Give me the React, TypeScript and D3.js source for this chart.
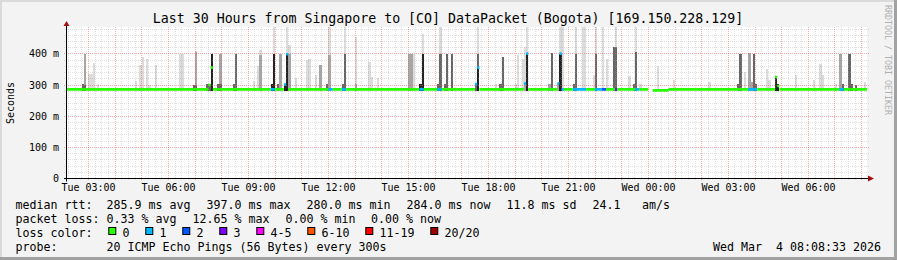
import React from 'react';
import * as d3 from 'd3';

const W = 897;
const H = 260;
const TITLE = 'Last 30 Hours from Singapore to [CO] DataPacket (Bogota) [169.150.228.129]';
const startTime = new Date(2026, 2, 3, 2, 12);
const endTime = new Date(2026, 2, 4, 8, 12);
const dayStart = new Date(2026, 2, 3, 0, 0).getTime();
const STEP = 5; // minutes per RRD step

const yTicks = [0, 100, 200, 300, 400];
const yTickLabels = ['0', '100 m', '200 m', '300 m', '400 m'];

// smoke: [minute since Tue 00:00, top of band in ms]
const lightSmoke: [number, number][] = [
  [170, 400], [180, 337], [185, 337], [190, 372], [200, 305], [285, 313], [295, 363],
  [300, 389], [310, 383], [315, 300], [330, 365], [385, 400], [390, 400], [420, 410],
  [455, 400], [550, 313], [560, 360], [565, 413], [595, 486], [625, 486], [630, 428],
  [645, 323], [670, 380], [675, 385], [690, 332], [720, 486], [755, 486], [780, 454],
  [810, 374], [815, 326], [830, 322], [910, 400], [930, 464], [970, 486], [1055, 486],
  [1095, 305], [1140, 305], [1145, 398], [1155, 385], [1160, 422], [1165, 486],
  [1240, 486], [1245, 486], [1275, 486], [1290, 486], [1295, 486], [1315, 332],
  [1320, 486], [1335, 486], [1345, 385], [1365, 486], [1395, 330], [1410, 486],
  [1420, 305], [1460, 362], [1495, 315], [1575, 311], [1655, 342], [1705, 353],
  [1710, 316], [1770, 332], [1810, 315], [1825, 369], [1830, 332], [1860, 305], [1925, 310],
];
const midSmoke: [number, number][] = [
  [170, 400], [420, 406], [475, 401], [565, 395], [610, 401], [630, 401], [700, 366],
  [720, 396], [780, 303], [900, 401], [905, 401], [1160, 305], [1215, 303], [1235, 303],
  [1665, 403], [1670, 310], [1870, 401],
];
const darkSmoke: [number, number][] = [
  [165, 303], [170, 300], [415, 300], [420, 300], [445, 305], [450, 305], [455, 401],
  [470, 305], [475, 305], [505, 303], [510, 401], [605, 303], [715, 303], [750, 303],
  [755, 401], [965, 303], [970, 401], [980, 303], [985, 401], [995, 399], [1050, 303],
  [1055, 399], [1105, 303], [1110, 390], [1165, 401], [1220, 403], [1270, 303],
  [1275, 401], [1320, 401], [1360, 422], [1365, 422], [1405, 303], [1410, 406],
  [1640, 303], [1645, 401], [1675, 401], [1680, 305], [1730, 300], [1875, 305],
  [1890, 401], [1895, 303], [1905, 300],
];
const blackSmoke: [number, number][] = [
  [455, 401], [590, 303], [595, 401], [620, 303], [625, 401], [925, 303], [930, 401],
  [1055, 356], [1165, 401], [1240, 401], [1725, 326], [1730, 303],
];

// median rtt
const medianBase = 286;
const medianJumps: [number, number][] = [
  [450, 300], [455, 356], [620, 302], [625, 399], [1050, 303], [1055, 356], [1160, 305],
  [1165, 401], [1235, 305], [1240, 401], [1725, 326], [1730, 297],
];
const medianOverrides: [number, number][] = [
  [1450, 283], [1455, 283], [1460, 283], [1465, 283], [1470, 283], [1475, 283], [1480, 283],
];
const medianGaps = [1440, 1445];

// [minute, loss color index]
const lossSteps: [number, number][] = [
  [590, 1], [595, 1], [620, 1], [625, 1], [720, 1], [725, 1], [750, 1], [755, 1],
  [925, 1], [930, 1], [965, 1], [970, 1], [1050, 1], [1055, 1], [1160, 1], [1165, 1],
  [1235, 1], [1240, 1], [1245, 1], [1270, 1], [1275, 1], [1280, 1], [1285, 1], [1290, 1],
  [1295, 1], [1320, 1], [1325, 1], [1330, 1], [1335, 2], [1340, 2], [1365, 3],
  [1410, 1], [1415, 1], [1665, 1], [1670, 1], [1675, 1], [1680, 1], [1870, 1], [1875, 1],
];

const lossColors = ['#26ff00', '#00b8ff', '#0059ff', '#7e00ff', '#ff00ff', '#ff5500', '#ff0000', '#a10000'];
const lossLabels = ['0', '1', '2', '3', '4-5', '6-10', '11-19', '20/20'];

const rttLine = ['285.9 ms avg', '397.0 ms max', '280.0 ms min', '284.0 ms now', '11.8 ms sd', '24.1'];
const lossLine = ['0.33 % avg', '12.65 % max', '0.00 % min', '0.00 % now'];
const probeText = '20 ICMP Echo Pings (56 Bytes) every 300s';
const stampText = 'Wed Mar\u00a0\u00a04 08:08:33 2026';

const FONT = "'DejaVu Sans Mono', monospace";
const CH = 7; // legend char advance

export default function App() {
  const PL = 67, PR = 867, PT = 27, PB = 178.5;
  const x = d3.scaleTime().domain([startTime, endTime]).range([PL, PR]);
  const y = d3.scaleLinear().domain([0, 480]).range([PB, 29]);
  const tm = (m: number) => new Date(dayStart + m * 60000);
  const crisp = (v: number) => Math.floor(v) + 0.5;
  const floorV = 281;

  const bars = (list: [number, number][], fill: string, key: string) =>
    list.map(([m, v], i) => {
      const x0 = x(tm(m));
      const x1 = x(tm(m + STEP));
      return (
        <rect key={key + i} x={x0} y={y(v)} width={x1 - x0} height={y(floorV) - y(v)}
          fill={fill} shapeRendering="crispEdges" />
      );
    });

  // grid
  const minorX = d3.timeMinute.every(15)!.range(startTime, endTime).filter((d) => d.getMinutes() !== 0);
  const majorX = d3.timeHour.range(startTime, endTime);
  const labelX = d3.timeHour.every(3)!.range(startTime, endTime);
  const minorY = d3.range(20, 481, 20).filter((v) => v % 100 !== 0);
  const majorY = d3.range(100, 481, 100);
  const fmt = d3.timeFormat('%a %H:%M');

  // median runs
  const jumpMap = new Map(medianJumps);
  const overMap = new Map(medianOverrides);
  const lossMap = new Map(lossSteps);
  const steps = d3.range(130, 1935, STEP);
  type Run = { m0: number; m1: number; v: number; c: string };
  const runs: Run[] = [];
  steps.forEach((m) => {
    if (medianGaps.includes(m)) return;
    const v = jumpMap.get(m) ?? overMap.get(m) ?? medianBase;
    const c = lossColors[lossMap.get(m) ?? 0];
    const last = runs[runs.length - 1];
    if (last && last.m1 === m && last.v === v && last.c === c) last.m1 = m + STEP;
    else runs.push({ m0: m, m1: m + STEP, v, c });
  });

  // legend swatch layout
  let lx = 108.3;
  const legendItems = lossLabels.map((lab, i) => {
    const item = { sx: lx, tx: lx + 15, lab, c: lossColors[i] };
    lx = lx + 15 + lab.length * CH + 15;
    return item;
  });

  const rttPos = [106.5, 206.5, 306.5, 406.5, 506.5, 592.5];
  const lossPos = [106.5, 192.5, 285.5, 371];
  const L1 = 208.5, L2 = 222.6, L3 = 236.7, L4 = 250.8;
  const legendFs = 11.63;
  const minorStroke = 'rgba(160,160,160,0.32)';
  const majorStroke = 'rgba(240,90,90,0.5)';

  return (
    <svg width={W} height={H} viewBox={`0 0 ${W} ${H}`}
      style={{ position: 'absolute', left: 0, top: 0, display: 'block' }}>
      <defs>
        <clipPath id="cv">
          <rect x={PL} y={PT} width={PR - PL} height={PB - PT} />
        </clipPath>
      </defs>
      <rect x={0} y={0} width={W} height={H} fill="#f3f3f3" />
      <rect x={0} y={0} width={W} height={2} fill="#dadada" />
      <rect x={0} y={0} width={2} height={H} fill="#dadada" />
      <rect x={0} y={H - 3} width={W} height={3} fill="#a2a2a2" />
      <rect x={W - 3} y={0} width={3} height={H} fill="#a2a2a2" />

      <rect x={PL} y={PT} width={PR - PL} height={PB - PT} fill="#ffffff" />

      <g clipPath="url(#cv)">
        {bars(lightSmoke, '#dcdcdc', 'l')}
        {bars(midSmoke, '#a6a6a6', 'm')}
        {bars(darkSmoke, '#666666', 'd')}
        {bars(blackSmoke, '#222222', 'k')}
      </g>

      {/* grid */}
      <g strokeWidth={1} strokeDasharray="1,1" fill="none">
        {minorY.map((v) => (
          <line key={'hy' + v} x1={PL - 3} x2={PR + 2} y1={crisp(y(v))} y2={crisp(y(v))}
            stroke={minorStroke} />
        ))}
        {minorX.map((d, i) => (
          <line key={'hx' + i} x1={crisp(x(d))} x2={crisp(x(d))} y1={PT} y2={PB + 1}
            stroke={minorStroke} />
        ))}
        {majorY.map((v) => (
          <line key={'my' + v} x1={PL - 3} x2={PR + 2} y1={crisp(y(v))} y2={crisp(y(v))}
            stroke={majorStroke} />
        ))}
        {majorX.map((d, i) => (
          <line key={'mx' + i} x1={crisp(x(d))} x2={crisp(x(d))} y1={PT} y2={PB + 2}
            stroke={majorStroke} />
        ))}
      </g>

      {/* median */}
      <g clipPath="url(#cv)">
        {runs.map((r, i) => (
          <line key={'md' + i} x1={x(tm(r.m0))} x2={x(tm(r.m1))} y1={y(r.v)} y2={y(r.v)}
            stroke={r.c} strokeWidth={2.6} />
        ))}
      </g>

      {/* axes */}
      <line x1={PL - 3} x2={PR + 3} y1={PB} y2={PB} stroke="#000" strokeWidth={1} />
      <line x1={PL - 0.5} x2={PL - 0.5} y1={PB + 3} y2={PT - 1} stroke="#000" strokeWidth={1} />
      <polygon points={`${PR + 1},${PB - 3} ${PR + 7},${PB} ${PR + 1},${PB + 3}`} fill="#a01010" />
      <polygon points={`${PL - 3.5},${PT - 1} ${PL - 0.5},${PT - 6} ${PL + 2.5},${PT - 1}`} fill="#a01010" />

      {/* axis labels */}
      <g fontFamily={FONT} fontSize={10} fill="#000">
        {yTicks.map((v, i) => (
          <text key={'yl' + v} x={59} y={crisp(y(v)) + 3.5} textAnchor="end">{yTickLabels[i]}</text>
        ))}
        {labelX.map((d, i) => (
          <text key={'xl' + i} x={crisp(x(d))} y={190.5} textAnchor="middle">{fmt(d)}</text>
        ))}
        <text x={14} y={103} textAnchor="middle" transform="rotate(-90 14 103)">Seconds</text>
      </g>

      {/* title */}
      <text x={448} y={23.3} textAnchor="middle" fontFamily={FONT} fontSize={13.25} fill="#000">{TITLE}</text>

      {/* watermark */}
      <text x={885} y={5} transform="rotate(90 885 5)" fontFamily={FONT} fontSize={8.3}
        fill="#b0b0b0">RRDTOOL / TOBI OETIKER</text>

      {/* legend */}
      <g fontFamily={FONT} fontSize={legendFs} fill="#000">
        <text x={15.5} y={L1}>median rtt:</text>
        {rttLine.map((s, i) => (
          <text key={'r' + i} x={rttPos[i]} y={L1}>{s}</text>
        ))}
        <text x={642} y={L1}>am/s</text>
        <text x={15.5} y={L2}>packet loss:</text>
        {lossLine.map((s, i) => (
          <text key={'p' + i} x={lossPos[i]} y={L2}>{s}</text>
        ))}
        <text x={15.5} y={L3}>loss color:</text>
        {legendItems.map((it, i) => (
          <g key={'lg' + i}>
            <rect x={it.sx + 0.5} y={227.5} width={7} height={7} fill={it.c} stroke="#000" strokeWidth={1} />
            <text x={it.tx - 0.8} y={L3}>{it.lab}</text>
          </g>
        ))}
        <text x={15.5} y={L4}>probe:</text>
        <text x={106.5} y={L4}>{probeText}</text>
        <text x={881} y={L4} textAnchor="end">{stampText}</text>
      </g>
    </svg>
  );
}
